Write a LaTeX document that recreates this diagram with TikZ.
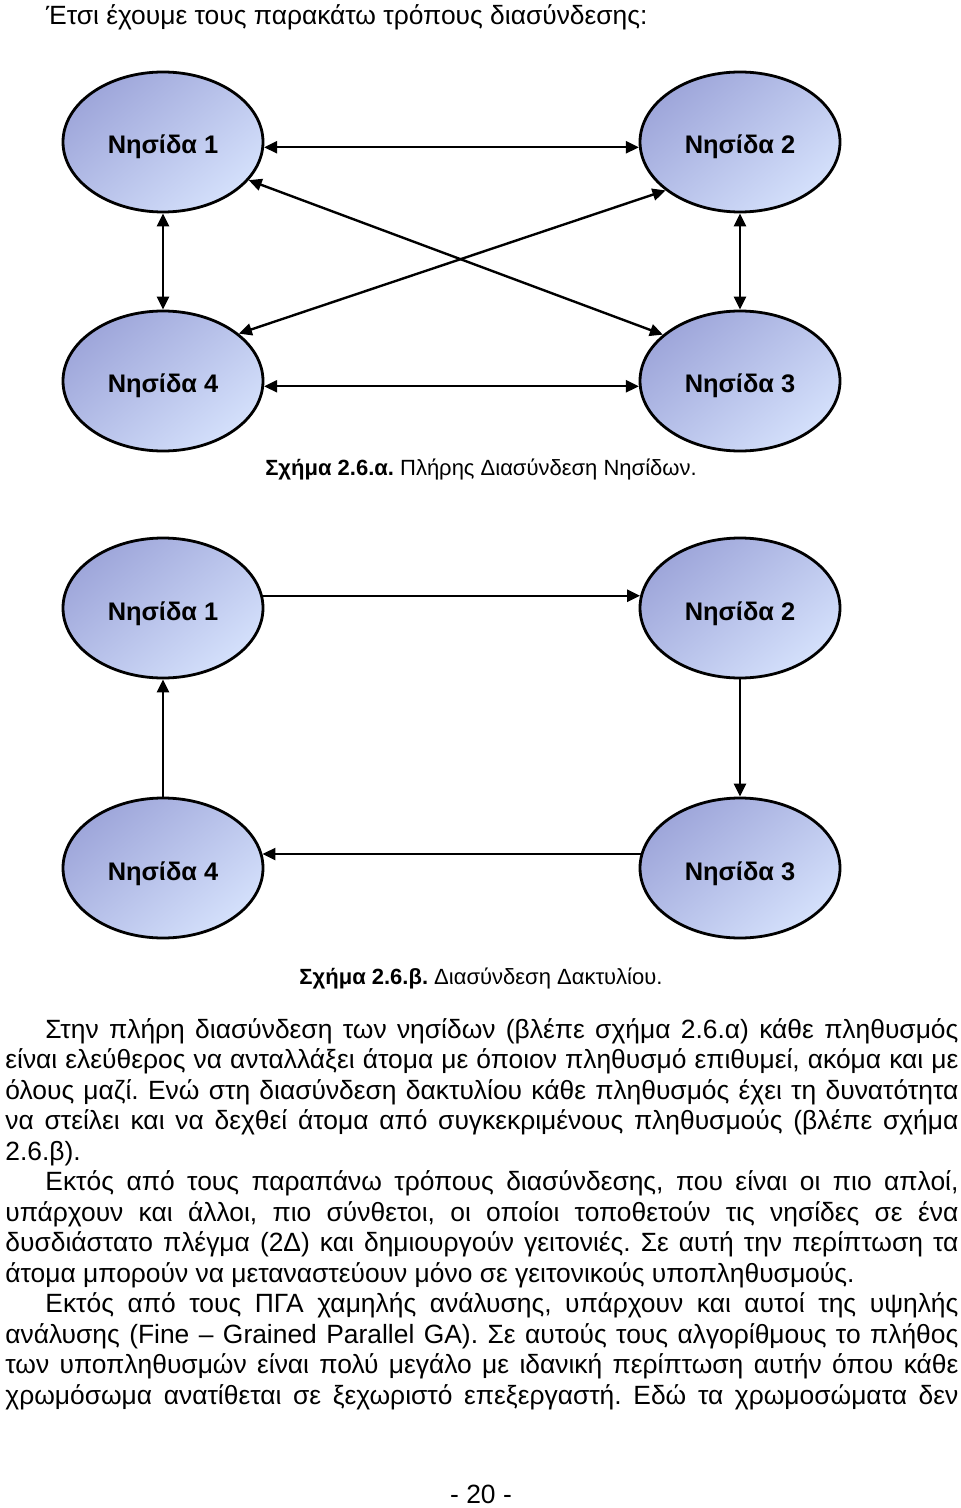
\documentclass[tikz,border=0pt]{standalone}
\usepackage{fontspec}
\setmainfont{Liberation Sans}
\usetikzlibrary{shapes.geometric,arrows.meta}

\definecolor{islandDark}{RGB}{158,166,218}
\definecolor{islandLight}{RGB}{212,224,251}

\newcommand{\fullline}[1]{\makebox[476.5pt][s]{#1}}
\newcommand{\indline}[1]{\hspace*{20pt}\makebox[456.5pt][s]{#1}}

\begin{document}
\frenchspacing
\begin{tikzpicture}[x=0.5pt, y=0.5pt,
    island/.style = {ellipse, draw=black, line width=1.4pt,
        minimum width=100pt, minimum height=70pt,
        text height=12pt, text depth=0pt,
        top color=islandDark, bottom color=islandLight, shading angle=40,
        font=\fontsize{12.7}{14}\selectfont\bfseries},
    oneway/.style = {line width=1.2pt, -{Triangle[length=6.5pt, width=6pt]}},
    twoway/.style = {line width=1.2pt, {Triangle[length=6.5pt, width=6pt]}-{Triangle[length=6.5pt, width=6pt]}},
    caption/.style = {anchor=base, font=\fontsize{11}{13}\selectfont}]
    %\draw [step = 50, help lines] (0,0) grid (960,-1508);
    \useasboundingbox [fill=white] (0,0) rectangle (960,-1508);

    \node [anchor=base west, font=\fontsize{13.2}{15}\selectfont] (intro) at (39,-25)
        {Έτσι έχουμε τους παρακάτω τρόπους διασύνδεσης:};

    % full interconnection
    \node [island] (a1) at (163,-142) {Νησίδα 1};
    \node [island] (a2) at (740,-142) {Νησίδα 2};
    \node [island] (a3) at (740,-381) {Νησίδα 3};
    \node [island] (a4) at (163,-381) {Νησίδα 4};

    \draw [twoway] (a1.-3) -- (a2.183);
    \draw [twoway] (a4.-3) -- (a3.183);
    \draw [twoway] (a1.south) -- (a4.north);
    \draw [twoway] (a2.south) -- (a3.north);
    \draw [twoway] (a1.-24) -- (a3.149);
    \draw [twoway] (a4.32) -- (a2.-147);

    \node [caption] (capa) at (481,-475) {\textbf{Σχήμα 2.6.α.} Πλήρης Διασύνδεση Νησίδων.};

    % ring
    \node [island] (b1) at (163,-608) {Νησίδα 1};
    \node [island] (b2) at (740,-608) {Νησίδα 2};
    \node [island] (b3) at (740,-868) {Νησίδα 3};
    \node [island] (b4) at (163,-868) {Νησίδα 4};

    \draw [oneway] (b1.7) -- (b2.173);
    \draw [oneway] (b2.south) -- (b3.north);
    \draw [oneway] (b3.172) -- (b4.8);
    \draw [oneway] (b4.north) -- (b1.south);

    \node [caption] (capb) at (481,-984) {\textbf{Σχήμα 2.6.β.} Διασύνδεση Δακτυλίου.};

    \node [anchor=base west, inner sep=0pt, align=left, font=\fontsize{13.2}{15.25}\selectfont] (body) at (5,-1404)
        {\indline{Στην πλήρη διασύνδεση των νησίδων (βλέπε σχήμα 2.6.α) κάθε πληθυσμός}\\
         \fullline{είναι ελεύθερος να ανταλλάξει άτομα με όποιον πληθυσμό επιθυμεί, ακόμα και με}\\
         \fullline{όλους μαζί. Ενώ στη διασύνδεση δακτυλίου κάθε πληθυσμός έχει τη δυνατότητα}\\
         \fullline{να στείλει και να δεχθεί άτομα από συγκεκριμένους πληθυσμούς (βλέπε σχήμα}\\
         2.6.β).\\
         \indline{Εκτός από τους παραπάνω τρόπους διασύνδεσης, που είναι οι πιο απλοί,}\\
         \fullline{υπάρχουν και άλλοι, πιο σύνθετοι, οι οποίοι τοποθετούν τις νησίδες σε ένα}\\
         \fullline{δυσδιάστατο πλέγμα (2Δ) και δημιουργούν γειτονιές. Σε αυτή την περίπτωση τα}\\
         άτομα μπορούν να μεταναστεύουν μόνο σε γειτονικούς υποπληθυσμούς.\\
         \indline{Εκτός από τους ΠΓΑ χαμηλής ανάλυσης, υπάρχουν και αυτοί της υψηλής}\\
         \fullline{ανάλυσης (Fine – Grained Parallel GA). Σε αυτούς τους αλγορίθμους το πλήθος}\\
         \fullline{των υποπληθυσμών είναι πολύ μεγάλο με ιδανική περίπτωση αυτήν όπου κάθε}\\
         \fullline{χρωμόσωμα ανατίθεται σε ξεχωριστό επεξεργαστή. Εδώ τα χρωμοσώματα δεν}};

    \node [anchor=base, font=\fontsize{13.2}{15}\selectfont] (page) at (481,-1503) {- 20 -};
\end{tikzpicture}
\end{document}
